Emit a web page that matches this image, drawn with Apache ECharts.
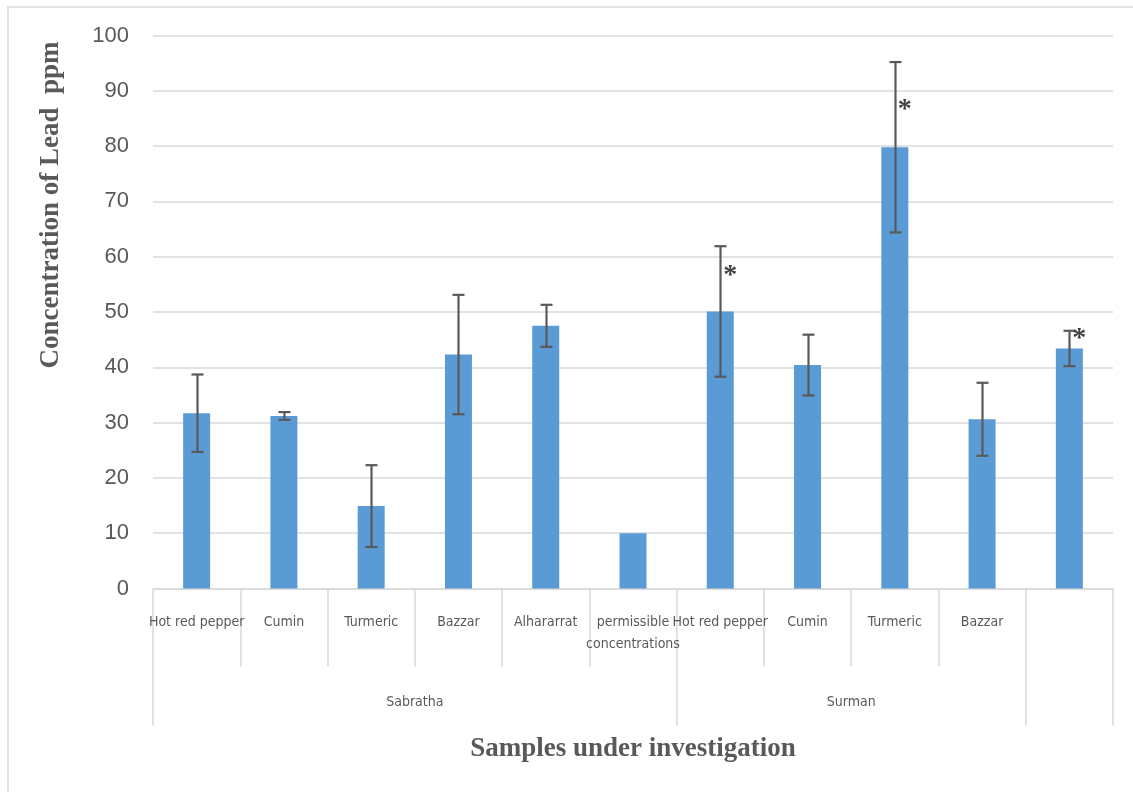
<!DOCTYPE html>
<html>
<head>
<meta charset="utf-8">
<script src="https://cdn.jsdelivr.net/npm/echarts@6/dist/echarts.min.js"></script>
<style>
html,body{margin:0;padding:0;background:#fff;}
#chart{width:1133px;height:792px;}
</style>
</head>
<body>
<div id="chart"></div>
<script>
// ---- data ----
const categories = ['Hot red pepper','Cumin','Turmeric','Bazzar','Alhararrat','permissible\nconcentrations','Hot red pepper','Cumin','Turmeric','Bazzar',''];
const values = [31.7, 31.2, 14.9, 42.3, 47.5, 10, 50.1, 40.4, 79.8, 30.6, 43.4];
const errors = [7.0, 0.7, 7.4, 10.8, 3.8, 0, 11.8, 5.5, 15.4, 6.6, 3.2];
const asteriskAt = [null, null, null, null, null, null, 56.6, null, 86.6, null, 45.2];
const groups = ['Sabratha', 'Surman', ''];
const groupStart = [0, 6, 10];
const groupEnd = [5, 9, 10];
const yTicks = [0, 10, 20, 30, 40, 50, 60, 70, 80, 90, 100];

const chart = echarts.init(document.getElementById('chart'), null, {renderer: 'canvas'});
const GRAY = '#595959';
const LINE = '#d9d9d9';

const errData = values.map((v, i) => [i, v - errors[i], v + errors[i], errors[i]]);
const starData = asteriskAt.map((v, i) => v == null ? null : [i, v]).filter(d => d);

const option = {
  animation: false,
  backgroundColor: '#fff',
  grid: {left: 153, right: 20, top: 35.5, bottom: 203.5, containLabel: false},
  xAxis: [{
    type: 'category',
    data: categories,
    boundaryGap: true,
    axisLine: {show: true, lineStyle: {color: LINE, width: 1.5}},
    axisTick: {show: true, length: 78, lineStyle: {color: LINE, width: 1.5}},
    axisLabel: {
      interval: 0, margin: 23, color: GRAY, fontSize: 14, lineHeight: 22,
      verticalAlign: 'top',
      fontFamily: '"Liberation Sans Narrow", "DejaVu Sans Condensed", sans-serif'
    },
    splitLine: {show: false}
  }, {
    type: 'category',
    data: categories,
    boundaryGap: true,
    position: 'bottom',
    axisLine: {show: false},
    axisTick: {
      show: true, length: 137, lineStyle: {color: LINE, width: 1.5},
      interval: function (index) { return groupStart.indexOf(index) >= 0; }
    },
    axisLabel: {show: false},
    splitLine: {show: false}
  }],
  yAxis: {
    type: 'value',
    min: yTicks[0], max: yTicks[yTicks.length - 1], interval: 10,
    axisLine: {show: false},
    axisTick: {show: false},
    axisLabel: {color: GRAY, fontSize: 22, margin: 24, fontFamily: '"Liberation Sans", Arial, sans-serif'},
    splitLine: {lineStyle: {color: LINE, width: 1.5}}
  },
  series: [{
    type: 'bar',
    data: values,
    barWidth: 27,
    itemStyle: {color: '#5b9bd5'},
    z: 2
  }, {
    type: 'custom',
    data: errData,
    z: 5,
    renderItem: function (params, api) {
      if (api.value(3) === 0) return null;
      const lo = api.coord([api.value(0), api.value(1)]);
      const hi = api.coord([api.value(0), api.value(2)]);
      const x = Math.round(lo[0]) + 0.5;
      const hw = 6;
      const st = {stroke: '#595959', lineWidth: 2.2};
      return {
        type: 'group',
        children: [
          {type: 'line', shape: {x1: x, y1: lo[1], x2: x, y2: hi[1]}, style: st},
          {type: 'line', shape: {x1: x - hw, y1: lo[1], x2: x + hw, y2: lo[1]}, style: st},
          {type: 'line', shape: {x1: x - hw, y1: hi[1], x2: x + hw, y2: hi[1]}, style: st}
        ]
      };
    }
  }, {
    type: 'custom',
    data: starData,
    z: 6,
    renderItem: function (params, api) {
      const p = api.coord([api.value(0), api.value(1)]);
      return {
        type: 'text',
        style: {
          text: '*', x: p[0] + 10, y: p[1], align: 'center', verticalAlign: 'middle',
          fill: '#404040', font: 'bold 28px "Liberation Serif", serif'
        }
      };
    }
  }]
};
chart.setOption(option);

// group labels and titles
const gfx = [{
  type: 'rect', shape: {x: 8, y: 7, width: 1200, height: 900},
  style: {fill: null, stroke: LINE, lineWidth: 1.5}, silent: true, z: -1
}, {
  type: 'text', x: 51, y: 205, rotation: Math.PI / 2,
  style: {text: 'Concentration of Lead  ppm', fill: GRAY, font: 'bold 27px "Liberation Serif", "Times New Roman", serif',
    align: 'center', verticalAlign: 'middle'}
}, {
  type: 'text', x: 633, y: 749,
  style: {text: 'Samples under investigation', fill: GRAY, font: 'bold 27px "Liberation Serif", "Times New Roman", serif',
    align: 'center', verticalAlign: 'middle'}
}];
groups.forEach((g, k) => {
  const a = chart.convertToPixel({xAxisIndex: 0}, groupStart[k]);
  const b = chart.convertToPixel({xAxisIndex: 0}, groupEnd[k]);
  gfx.push({
    type: 'text', x: (a + b) / 2, y: 702,
    style: {text: g, fill: GRAY, font: '14px "Liberation Sans Narrow", "DejaVu Sans Condensed", sans-serif',
      align: 'center', verticalAlign: 'middle'}
  });
});
chart.setOption({graphic: gfx});
</script>
</body>
</html>
